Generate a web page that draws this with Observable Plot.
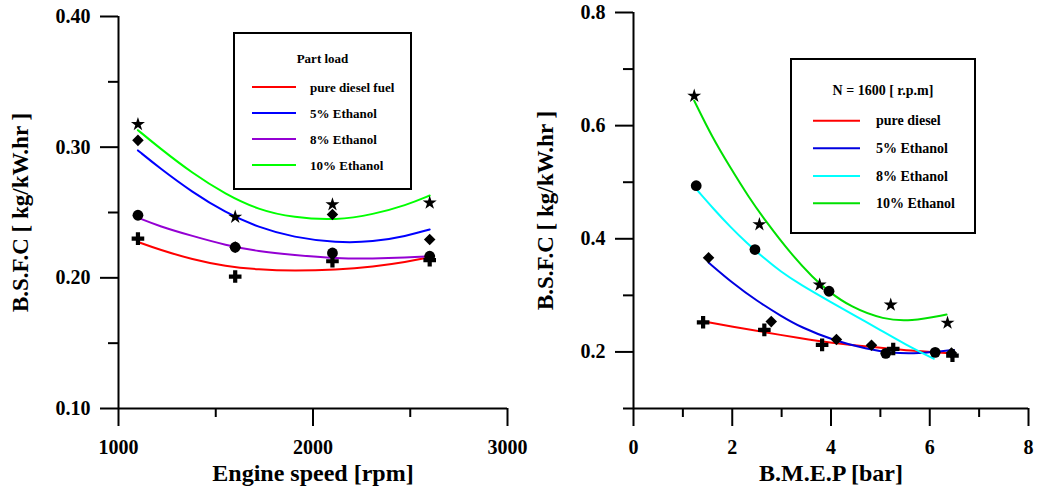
<!DOCTYPE html>
<html>
<head>
<meta charset="utf-8">
<script src="https://cdn.jsdelivr.net/npm/d3@7"></script>
<script src="https://cdn.jsdelivr.net/npm/@observablehq/plot@0.6"></script>
<style>
  body { margin: 0; background: #fff; }
  #wrap { position: relative; width: 1038px; height: 489px; overflow: hidden; }
  #wrap > svg { position: absolute; top: 0; overflow: visible; }
  #wrap svg text { font-family: "Liberation Serif", "Times New Roman", serif; font-weight: bold; fill: #000; }
</style>
</head>
<body>
<div id="wrap"></div>
<script>
// ---------- Panel 1: B.S.F.C vs engine speed (part load) ----------
const speedRpm = [1100, 1600, 2100, 2600];
const bsfcSpeedDiesel = [0.230, 0.201, 0.2127, 0.2135];
const bsfcSpeedE5 = [0.3052, 0.2235, 0.2485, 0.2293];
const bsfcSpeedE8 = [0.2479, 0.2234, 0.2190, 0.2165];
const bsfcSpeedE10 = [0.3175, 0.2466, 0.2561, 0.2574];

// fitted trend curves (sampled along each curve)
const fitSpeedRpm = [1100, 1210, 1380, 1550, 1720, 1900, 2120, 2310, 2480, 2600];
const fitSpeedDiesel = [0.2275, 0.2216, 0.2140, 0.2088, 0.2063, 0.2053, 0.2062, 0.2085, 0.2122, 0.2157];
const fitSpeedE5 = [0.2975, 0.2842, 0.2655, 0.2500, 0.2385, 0.2310, 0.2268, 0.2275, 0.2320, 0.2370];
const fitSpeedE8 = [0.2460, 0.2395, 0.2320, 0.2250, 0.2203, 0.2175, 0.2148, 0.2147, 0.2155, 0.2165];
const fitSpeedE10 = [0.3130, 0.2995, 0.2800, 0.2640, 0.2520, 0.2460, 0.2440, 0.2485, 0.2556, 0.2630];

const speedTicksMajor = [1000, 2000, 3000];
const speedTicksMinor = [1500, 2500];
const bsfcSpeedTicksMajor = [0.10, 0.20, 0.30, 0.40];
const bsfcSpeedTicksMinor = [0.15, 0.25, 0.35];

// ---------- Panel 2: B.S.F.C vs B.M.E.P at N = 1600 rpm ----------
const bmepDiesel = [1.41, 2.65, 3.82, 5.26, 6.46];
const bsfcBmepDiesel = [0.2524, 0.2389, 0.2124, 0.2053, 0.1934];
const bmepE5 = [1.52, 2.79, 4.11, 4.82, 6.44];
const bsfcBmepE5 = [0.3664, 0.2536, 0.2218, 0.2117, 0.1980];
const bmepE8 = [1.27, 2.46, 3.96, 5.11, 6.11];
const bsfcBmepE8 = [0.4938, 0.3810, 0.3073, 0.1975, 0.1993];
const bmepE10 = [1.23, 2.55, 3.77, 5.21, 6.36];
const bsfcBmepE10 = [0.6525, 0.4253, 0.3186, 0.2832, 0.2513];

// fitted trend curves (sampled along each curve)
const fitBmepDiesel = [1.45, 2.0, 2.64, 3.38, 4.0, 4.73, 5.5, 6.39];
const fitBsfcBmepDiesel = [0.2535, 0.2448, 0.2350, 0.2242, 0.2160, 0.2094, 0.2030, 0.1975];
const fitBmepE5 = [1.52, 2.0, 2.5, 3.0, 3.38, 4.06, 4.73, 5.2, 5.75, 6.49];
const fitBsfcBmepE5 = [0.358, 0.322, 0.290, 0.263, 0.244, 0.220, 0.205, 0.198, 0.1965, 0.2035];
const fitBmepE8 = [1.29, 1.62, 1.96, 2.30, 2.64, 2.98, 3.38, 4.0, 4.5, 5.0, 5.5, 6.08];
const fitBsfcBmepE8 = [0.486, 0.453, 0.421, 0.392, 0.366, 0.342, 0.319, 0.288, 0.263, 0.239, 0.2135, 0.188];
const fitBmepE10 = [1.23, 1.59, 1.96, 2.33, 2.67, 3.18, 3.65, 3.92, 4.40, 5.07, 5.61, 6.34];
const fitBsfcBmepE10 = [0.644, 0.580, 0.526, 0.474, 0.432, 0.374, 0.330, 0.309, 0.279, 0.257, 0.254, 0.266];

const bmepTicksMajor = [0, 2, 4, 6, 8];
const bmepTicksMinor = [1, 3, 5, 7];
const bsfcBmepTicksMajor = [0.2, 0.4, 0.6, 0.8];
const bsfcBmepTicksMinor = [0.1, 0.3, 0.5, 0.7];

// legend entries
const speedLegendTitle = "Part load";
const speedLegendLabels = ["pure diesel fuel", "5% Ethanol", "8% Ethanol", "10% Ethanol"];
const speedColors = ["#ff0000", "#0000ff", "#9400d3", "#00ff00"];
const bmepLegendTitle = "N = 1600 [ r.p.m]";
const bmepLegendLabels = ["pure diesel", "5% Ethanol", "8% Ethanol", "10% Ethanol"];
const bmepColors = ["#ff0000", "#0000e0", "#00ffff", "#00e000"];

const FONT = '"Liberation Serif", "Times New Roman", serif';
const rows = (xs, ys) => xs.map((x, i) => ({x, y: ys[i]}));

// marker style per fuel: diesel = cross, 5% = diamond, 8% = circle, 10% = star
const dotMark = (data, symbol, r) => Plot.dot(data, {x: "x", y: "y", symbol, r, fill: "black", stroke: "none"});
const lineMark = (data, color) => Plot.line(data, {x: "x", y: "y", stroke: color, strokeWidth: 2, curve: "basis"});

function axes(xMajor, xMinor, yMajor, yMinor, yFmt, xTitle, yTitle, yTitleDx) {
  return [
    Plot.axisY({ticks: yMajor, tickFormat: d3.format(yFmt), tickSize: 18, tickPadding: 10, strokeWidth: 2,
                label: null, fontSize: 20, fontWeight: "bold"}),
    Plot.axisY({ticks: yMinor, tickFormat: () => "", tickSize: 10, strokeWidth: 2, label: null}),
    Plot.axisX({ticks: xMajor, tickFormat: d => String(d), tickSize: 18, tickPadding: 13, strokeWidth: 2,
                label: null, fontSize: 20, fontWeight: "bold"}),
    Plot.axisX({ticks: xMinor, tickFormat: () => "", tickSize: 9, strokeWidth: 2, label: null}),
    Plot.text([xTitle], {text: d => d, frameAnchor: "bottom", dy: 65, lineAnchor: "middle",
                         fontSize: 24, fontWeight: "bold"}),
    Plot.text([yTitle], {text: d => d, frameAnchor: "left", dx: yTitleDx, rotate: -90, textAnchor: "middle",
                         lineAnchor: "middle", fontSize: 23, fontWeight: "bold"})
  ];
}

const styleOpts = {fontFamily: FONT, fontWeight: "bold", fontSize: "20px", background: "transparent", overflow: "visible", color: "black"};

const speedChart = Plot.plot({
  width: 520, height: 489,
  marginLeft: 118, marginRight: 13, marginTop: 16, marginBottom: 81,
  style: styleOpts,
  x: {domain: [1000, 3000]},
  y: {domain: [0.1, 0.4]},
  marks: [
    lineMark(rows(fitSpeedRpm, fitSpeedDiesel), speedColors[0]),
    lineMark(rows(fitSpeedRpm, fitSpeedE5), speedColors[1]),
    lineMark(rows(fitSpeedRpm, fitSpeedE8), speedColors[2]),
    lineMark(rows(fitSpeedRpm, fitSpeedE10), speedColors[3]),
    dotMark(rows(speedRpm, bsfcSpeedE5), "diamond2", 5.2),
    dotMark(rows(speedRpm, bsfcSpeedE8), "circle", 5.4),
    dotMark(rows(speedRpm, bsfcSpeedDiesel), "cross", 5.3),
    dotMark(rows(speedRpm, bsfcSpeedE10), "star", 4.4),
    Plot.ruleX([1000], {strokeWidth: 2}),
    Plot.ruleY([0.1], {strokeWidth: 2}),
    ...axes(speedTicksMajor, speedTicksMinor, bsfcSpeedTicksMajor, bsfcSpeedTicksMinor, ".2f",
            "Engine speed [rpm]", "B.S.F.C [ kg/kW.hr ]", -98)
  ]
});
speedChart.style.left = "0px";

const bmepChart = Plot.plot({
  width: 518, height: 489,
  marginLeft: 113, marginRight: 10, marginTop: 12, marginBottom: 81,
  style: styleOpts,
  x: {domain: [0, 8]},
  y: {domain: [0.1, 0.8]},
  marks: [
    lineMark(rows(fitBmepDiesel, fitBsfcBmepDiesel), bmepColors[0]),
    lineMark(rows(fitBmepE5, fitBsfcBmepE5), bmepColors[1]),
    lineMark(rows(fitBmepE8, fitBsfcBmepE8), bmepColors[2]),
    lineMark(rows(fitBmepE10, fitBsfcBmepE10), bmepColors[3]),
    dotMark(rows(bmepE5, bsfcBmepE5), "diamond2", 5.2),
    dotMark(rows(bmepE8, bsfcBmepE8), "circle", 5.4),
    dotMark(rows(bmepDiesel, bsfcBmepDiesel), "cross", 5.3),
    dotMark(rows(bmepE10, bsfcBmepE10), "star", 4.4),
    Plot.ruleX([0], {strokeWidth: 2}),
    Plot.ruleY([0.1], {strokeWidth: 2}),
    ...axes(bmepTicksMajor, bmepTicksMinor, bsfcBmepTicksMajor, bsfcBmepTicksMinor, ".1f",
            "B.M.E.P [bar]", "B.S.F.C [ kg/kW.hr ]", -88)
  ]
});
bmepChart.style.left = "520px";

const wrap = document.getElementById("wrap");
wrap.append(speedChart, bmepChart);

// boxed legends drawn inside each panel
function legend({left, top, width, height, title, labels, colors, fontSize, titleY, rowY, lineX0, lineX1, textX}) {
  const svg = d3.create("svg")
    .attr("width", width).attr("height", height)
    .style("position", "absolute").style("left", left + "px").style("top", top + "px")
    .style("font-family", FONT).style("font-weight", "bold");
  svg.append("rect").attr("x", 1).attr("y", 1).attr("width", width - 2).attr("height", height - 2)
    .attr("fill", "white").attr("stroke", "black").attr("stroke-width", 2);
  svg.append("text").attr("x", width / 2).attr("y", titleY).attr("text-anchor", "middle")
    .attr("dominant-baseline", "central").attr("font-size", fontSize).text(title);
  labels.forEach((lab, i) => {
    svg.append("line").attr("x1", lineX0).attr("x2", lineX1).attr("y1", rowY[i]).attr("y2", rowY[i])
      .attr("stroke", colors[i]).attr("stroke-width", 2);
    svg.append("text").attr("x", textX).attr("y", rowY[i]).attr("dominant-baseline", "central")
      .attr("font-size", fontSize).text(lab);
  });
  wrap.append(svg.node());
}

legend({left: 233, top: 32, width: 179, height: 158, title: speedLegendTitle, labels: speedLegendLabels,
        colors: speedColors, fontSize: 13, titleY: 26, rowY: [55, 81, 107, 133], lineX0: 19, lineX1: 63, textX: 77});
legend({left: 790, top: 58, width: 186, height: 176, title: bmepLegendTitle, labels: bmepLegendLabels,
        colors: bmepColors, fontSize: 14, titleY: 32, rowY: [62.7, 90.3, 118, 145.3], lineX0: 23, lineX1: 70, textX: 86});
</script>
</body>
</html>
